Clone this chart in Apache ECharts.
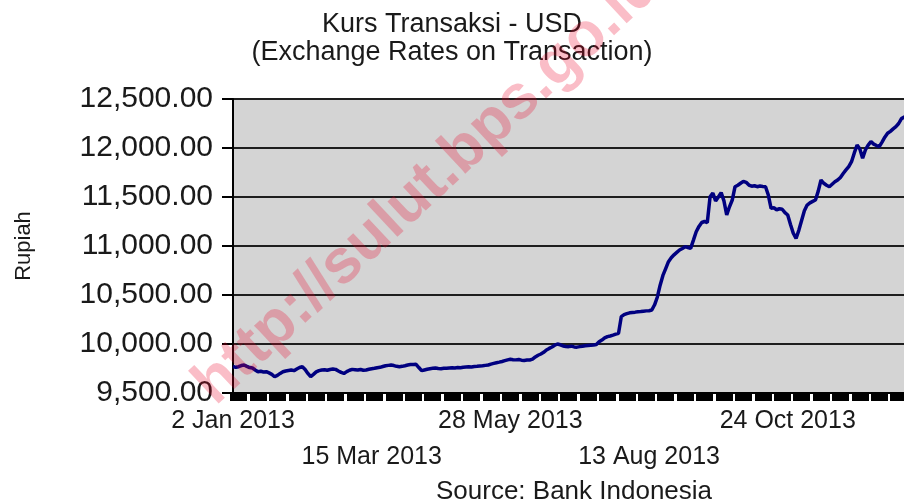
<!DOCTYPE html>
<html>
<head>
<meta charset="utf-8">
<script src="https://cdn.jsdelivr.net/npm/echarts@6.0.0/dist/echarts.min.js"></script>
<style>
  html, body { margin: 0; padding: 0; background: #fff; }
  #chart { width: 904px; height: 504px; }
</style>
</head>
<body>
<div id="chart"></div>
<script>
// Kurs transaksi USD 2013, one value per trading day
const rates = [
  9770, 9762, 9768, 9780, 9786, 9772, 9760, 9755, 9735, 9717,
  9722, 9715, 9717, 9705, 9690, 9666, 9680, 9700, 9717, 9725,
  9730, 9735, 9728, 9745, 9760, 9768, 9740, 9700, 9666, 9690,
  9715, 9728, 9735, 9738, 9732, 9740, 9745, 9741, 9725, 9710,
  9700, 9718, 9732, 9741, 9738, 9735, 9740, 9732, 9735, 9742,
  9748, 9752, 9758, 9762, 9770, 9778, 9782, 9786, 9780, 9772,
  9768, 9772, 9778, 9785, 9790, 9792, 9793, 9760, 9728, 9735,
  9742, 9748, 9752, 9755, 9750, 9748, 9752, 9752, 9755, 9758,
  9756, 9760, 9758, 9762, 9765, 9768, 9766, 9770, 9772, 9775,
  9778, 9782, 9786, 9795, 9802, 9809, 9815, 9822, 9830, 9838,
  9844, 9840, 9838, 9842, 9835, 9832, 9836, 9837, 9845, 9868,
  9885, 9898, 9915, 9939, 9955, 9970, 9988, 10000, 9992, 9980,
  9975, 9973, 9978, 9970, 9968, 9973, 9978, 9982, 9985, 9988,
  9990, 9995, 10023, 10040, 10062, 10075, 10082, 10090, 10100, 10109,
  10280, 10300, 10310, 10318, 10322, 10325, 10330, 10332, 10335, 10338,
  10340, 10347, 10400, 10480, 10600, 10700, 10770, 10840, 10880, 10910,
  10935, 10959, 10975, 10993, 10985, 10976, 11060, 11146, 11200, 11240,
  11250, 11240, 11503, 11540, 11460, 11500, 11545, 11460, 11316, 11400,
  11469, 11605, 11620, 11640, 11660, 11650, 11622, 11610, 11615, 11605,
  11612, 11608, 11605, 11520, 11384, 11390, 11370, 11380, 11375, 11340,
  11316, 11220, 11130, 11078, 11160, 11260, 11360, 11418, 11440, 11455,
  11469, 11560, 11673, 11640, 11620, 11605, 11630, 11655, 11673, 11700,
  11740, 11776, 11810, 11860, 11950, 12031, 11990, 11895, 11980, 12030,
  12065, 12040, 12025, 12014, 12060, 12110, 12150, 12170, 12195, 12218,
  12250, 12300, 12315, 12330
];

// every 50th trading day gets a label, alternating between two rows
const tickLabels = ["2 Jan 2013", "15 Mar 2013", "28 May 2013", "13 Aug 2013", "24 Oct 2013"];
const labelStep = 50;

const FONT = "'Liberation Sans', Arial, sans-serif";
const INK = "#1a1a1a";

const days = rates.map((_, i) => String(i));

const chart = echarts.init(document.getElementById("chart"), null, { renderer: "canvas" });

chart.setOption({
  animation: false,
  backgroundColor: "#fff",
  title: {
    text: "Kurs Transaksi - USD\n(Exchange Rates on Transaction)",
    left: "center",
    top: 6,
    textStyle: {
      fontFamily: FONT,
      fontSize: 27,
      fontWeight: "normal",
      lineHeight: 28,
      color: INK,
    },
  },
  grid: {
    left: 233,
    right: -3,
    top: 99,
    bottom: 111,
    outerBoundsMode: "none",
    containLabel: false,
    show: true,
    backgroundColor: "#d4d4d4",
    borderColor: "#000",
    borderWidth: 2,
  },
  xAxis: {
    type: "category",
    data: days,
    boundaryGap: false,
    axisLine: { lineStyle: { color: "#000", width: 2 } },
    axisTick: {
      interval: (i) => (i - 2) % 7 === 0,
      length: 8,
      lineStyle: { color: "#000", width: 17 },
    },
    axisLabel: {
      interval: labelStep - 1,
      margin: 16,
      fontFamily: FONT,
      fontSize: 25,
      color: INK,
      formatter: (v, idx) => {
        const k = Math.round(idx / labelStep);
        const text = tickLabels[k] || "";
        return k % 2 === 0 ? `{a|${text}}` : `{b|${text}}`;
      },
      rich: {
        a: { fontFamily: FONT, fontSize: 25, color: INK },
        b: { fontFamily: FONT, fontSize: 25, color: INK, padding: [36, 0, 0, 0] },
      },
    },
    splitLine: { show: false },
  },
  yAxis: {
    type: "value",
    min: 9500,
    max: 12500,
    interval: 500,
    name: "Rupiah",
    nameLocation: "middle",
    nameGap: 198,
    nameTextStyle: { fontFamily: FONT, fontSize: 22, color: INK },
    axisLine: { show: true, lineStyle: { color: "#000", width: 2 } },
    axisTick: { show: true, length: 11, lineStyle: { color: "#000", width: 2 } },
    axisLabel: {
      margin: 20,
      fontFamily: FONT,
      fontSize: 30,
      color: INK,
      formatter: (v) => v.toLocaleString("en-US", { minimumFractionDigits: 2, maximumFractionDigits: 2 }),
    },
    splitLine: { lineStyle: { color: "#1e1e1e", width: 2 } },
  },
  series: [
    {
      type: "line",
      data: rates,
      showSymbol: false,
      lineStyle: { color: "#000080", width: 3.5 },
    },
  ],
  graphic: [
    {
      type: "text",
      x: 574,
      y: 492,
      style: {
        text: "Source: Bank Indonesia",
        font: `26px ${FONT}`,
        fill: INK,
        align: "center",
        verticalAlign: "middle",
      },
    },
    {
      type: "text",
      x: 428,
      y: 185,
      rotation: 0.75,
      z: 100,
      style: {
        text: "http://sulut.bps.go.id",
        font: `bold 62px ${FONT}`,
        fill: "rgba(235,0,40,0.26)",
        align: "center",
        verticalAlign: "middle",
      },
    },
  ],
});
</script>
</body>
</html>
